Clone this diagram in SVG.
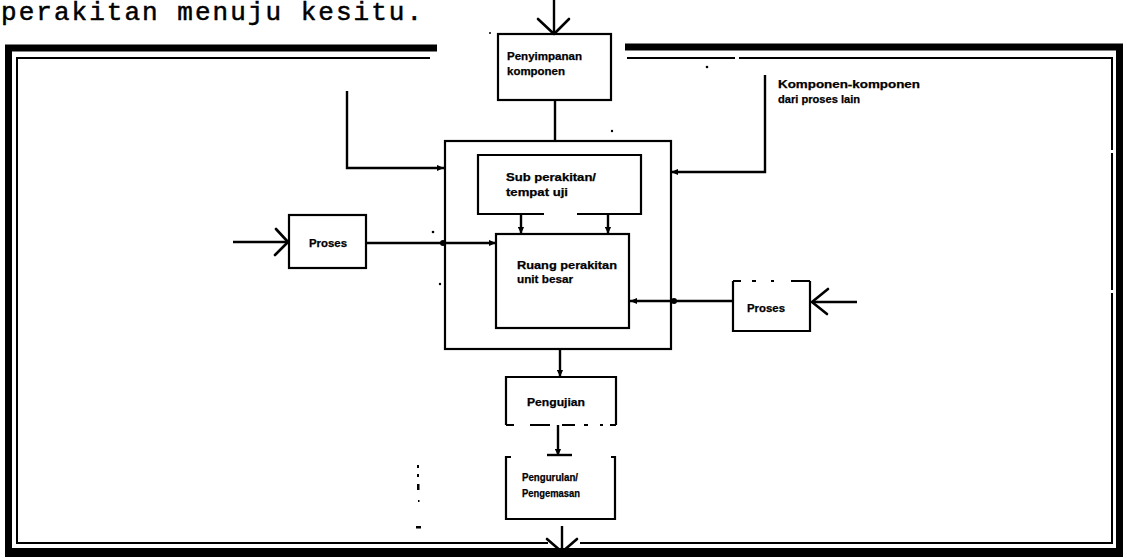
<svg xmlns="http://www.w3.org/2000/svg" width="1127" height="558" viewBox="0 0 1127 558">
  <defs>
    <style>
      .title { font-family: "Liberation Mono", "Courier New", monospace; font-size: 26px; fill: #000; stroke: #000; stroke-width: 0.5; }
      .lbl { font-family: "Liberation Sans", Arial, sans-serif; font-size: 10.5px; font-weight: bold; fill: #000; stroke: #000; stroke-width: 0.25; }
      .box { fill: none; stroke: #000; stroke-width: 2.2; }
      .edge { fill: none; stroke: #000; stroke-width: 2.4; }
      .thin { fill: none; stroke: #000; stroke-width: 2; }
      .thick { fill: none; stroke: #000; }
      .vee { fill: none; stroke: #000; stroke-width: 2.6; stroke-linecap: round; stroke-linejoin: round; }
      .speck { fill: #000; }
    </style>
    <marker id="blob" viewBox="0 0 8 8" refX="8" refY="4" markerWidth="7" markerHeight="7" markerUnits="userSpaceOnUse" orient="auto">
      <path d="M0,0.5 L8,4 L0,7.5 z" fill="#000"/>
    </marker>
  </defs>

  <rect width="1127" height="558" fill="#fff"/>

  <!-- heading line of the page -->
  <text class="title" x="1" y="20" textLength="421" lengthAdjust="spacing">perakitan menuju kesitu.</text>

  <!-- page frame: heavy outer rule and thin inner rule -->
  <g id="frame">
    <path class="thick" stroke-width="7" d="M5,48 H437"/>
    <path class="thick" stroke-width="7" d="M625,47 H1123"/>
    <path class="thick" stroke-width="7" d="M8.5,45 V556"/>
    <path class="thick" stroke-width="7" d="M1119.5,44 V556"/>
    <path class="thick" stroke-width="9" d="M5,552.5 H1123"/>
    <path class="thin" d="M17,58 H430"/>
    <path class="thin" d="M627,58 H735 M739,58 H1113"/>
    <path class="thin" d="M17,57 V544"/>
    <path class="thin" d="M1112,57 V150 M1112,153 V290 M1112,293 V544"/>
    <path class="thin" d="M16,543 H548 M580,543 H1113"/>
  </g>

  <!-- connectors -->
  <g id="connectors">
    <!-- incoming from above into storage -->
    <path class="edge" d="M554,0 V34"/>
    <path class="vee" d="M538,19 L554,34 L569,19"/>
    <!-- storage down into the assembly block -->
    <path class="edge" d="M555,100 V141"/>
    <!-- left feed into assembly block -->
    <path class="edge" d="M347,91 V168 H444" marker-end="url(#blob)"/>
    <!-- components from other processes -->
    <path class="edge" d="M765,75 V172 H671" marker-end="url(#blob)"/>
    <!-- sub assembly down to main assembly room -->
    <path class="edge" d="M521,214 V234" marker-end="url(#blob)"/>
    <path class="edge" d="M608,214 V234" marker-end="url(#blob)"/>
    <!-- left process -->
    <path class="edge" d="M233,242 H288"/>
    <path class="vee" d="M276,229 L288,242 L275,255"/>
    <path class="edge" d="M366,243 H496" marker-end="url(#blob)"/>
    <circle class="speck" cx="443" cy="243" r="3"/>
    <!-- right process -->
    <path class="edge" d="M857,302 H812"/>
    <path class="vee" d="M828,289 L812,302 L827,314"/>
    <path class="edge" d="M732,301 H630" marker-end="url(#blob)"/>
    <circle class="speck" cx="674" cy="301" r="3"/>
    <!-- assembly block down to testing -->
    <path class="edge" d="M560,349 V377" marker-end="url(#blob)"/>
    <!-- testing down to packing -->
    <path class="edge" d="M558,425 V456" marker-end="url(#blob)"/>
    <path class="edge" d="M547,455 H572" stroke-width="3"/>
    <!-- packing out through the bottom -->
    <path class="edge" d="M562,526 V552"/>
    <path class="vee" d="M547,539 L562,552 L577,539"/>
  </g>

  <g id="assembly-block">
    <rect class="box" x="445" y="141" width="226" height="208" stroke-width="2.6"/>
  </g>

  <g id="penyimpanan">
    <rect class="box" x="498" y="34" width="113" height="66"/>
    <text class="lbl" x="507" y="60" textLength="75" lengthAdjust="spacingAndGlyphs">Penyimpanan</text>
    <text class="lbl" x="507" y="75" textLength="58" lengthAdjust="spacingAndGlyphs">komponen</text>
  </g>

  <g id="sub-perakitan">
    <path class="box" d="M544,214 H478 V155 H641 V214 H577"/>
    <text class="lbl" x="506" y="181" textLength="90" lengthAdjust="spacingAndGlyphs">Sub perakitan/</text>
    <text class="lbl" x="506" y="196" textLength="62" lengthAdjust="spacingAndGlyphs">tempat uji</text>
  </g>

  <g id="ruang-perakitan">
    <rect class="box" x="496" y="234" width="133" height="94"/>
    <text class="lbl" x="517" y="269" textLength="100" lengthAdjust="spacingAndGlyphs">Ruang perakitan</text>
    <text class="lbl" x="517" y="283" textLength="56" lengthAdjust="spacingAndGlyphs">unit besar</text>
  </g>

  <g id="proses-kiri">
    <rect class="box" x="289" y="215" width="77" height="53"/>
    <text class="lbl" x="309" y="247" textLength="38" lengthAdjust="spacingAndGlyphs">Proses</text>
  </g>

  <g id="proses-kanan">
    <path class="box" d="M733,281 V331 H810 V281"/>
    <path class="box" d="M733,281 H741 M752,281 H756 M771,281 H774 M791,281 H810"/>
    <text class="lbl" x="747" y="312" textLength="38" lengthAdjust="spacingAndGlyphs">Proses</text>
  </g>

  <g id="pengujian">
    <path class="box" d="M506,425 V377 H616 V425"/>
    <path class="box" d="M506,425 H514 M530,425 H550 M562,425 H575 M584,425 H588 M600,425 H603 M610,425 H616"/>
    <text class="lbl" x="527" y="406" textLength="58" lengthAdjust="spacingAndGlyphs">Pengujian</text>
  </g>

  <g id="pengurulan">
    <path class="box" d="M511,457 H506 V519 H615 V457 H611"/>
    <text class="lbl" x="522" y="481" textLength="56" lengthAdjust="spacingAndGlyphs">Pengurulan/</text>
    <text class="lbl" x="522" y="497" textLength="58" lengthAdjust="spacingAndGlyphs">Pengemasan</text>
  </g>

  <g id="komponen-lain">
    <text class="lbl" x="778" y="88" textLength="142" lengthAdjust="spacingAndGlyphs">Komponen-komponen</text>
    <text class="lbl" x="778" y="103" textLength="82" lengthAdjust="spacingAndGlyphs">dari proses lain</text>
  </g>

  <!-- loose ink marks on the sheet -->
  <g id="marks">
    <circle class="speck" cx="612" cy="131" r="1.2"/>
    <circle class="speck" cx="707" cy="67" r="1.3"/>
    <circle class="speck" cx="433" cy="232" r="1.3"/>
    <circle class="speck" cx="440" cy="284" r="1.2"/>
    <circle class="speck" cx="490" cy="33" r="1"/>
    <rect class="speck" x="417" y="465" width="2" height="3"/>
    <rect class="speck" x="417" y="474" width="2" height="3"/>
    <rect class="speck" x="417" y="484" width="2.5" height="6"/>
    <rect class="speck" x="418" y="500" width="1.5" height="2"/>
    <rect class="speck" x="416" y="526" width="5" height="2.5"/>
  </g>
</svg>
